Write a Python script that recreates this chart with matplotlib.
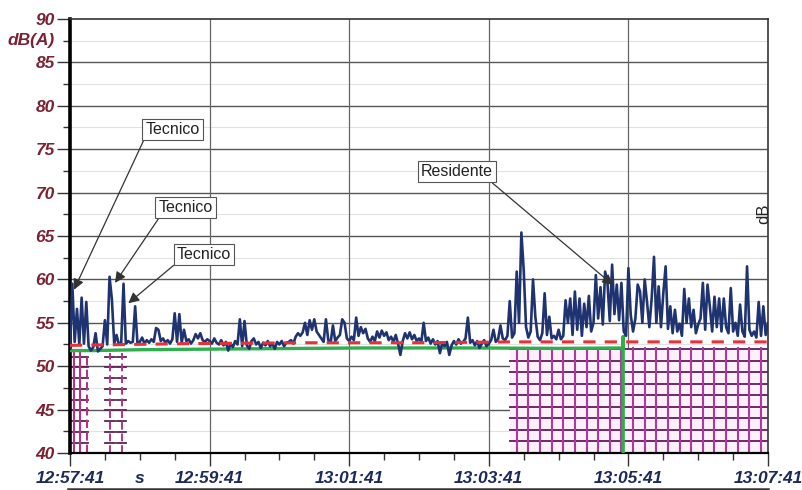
import numpy as np
import matplotlib
matplotlib.use("Agg")
import matplotlib.pyplot as plt
from matplotlib.lines import Line2D

plt.rcParams["font.family"] = ["Liberation Sans", "DejaVu Sans"]

# ── Data (seconds from 12:57:41, level in dB(A)) ─────────────────────────────
SAMPLE_S = 2
blue_db = [
    52.0, 59.5, 52.8, 56.6, 52.5, 57.9, 52.6, 57.4, 52.3, 51.8, 52.2, 53.8, 51.7, 52.0, 52.3,
    55.3, 52.5, 60.3, 57.7, 52.6, 53.6, 52.5, 52.7, 59.5, 52.6, 52.9, 52.7, 52.8, 56.9, 52.6,
    52.8, 53.3, 52.6, 53.0, 52.7, 53.1, 52.8, 54.4, 54.2, 52.9, 53.2, 52.7, 53.0, 52.6, 53.1,
    56.1, 52.8, 56.0, 52.7, 54.2, 52.9, 53.1, 52.6, 53.0, 53.7, 53.2, 53.8, 53.0, 52.8, 53.1,
    52.9, 52.6, 53.2, 52.7, 52.5, 53.0, 52.4, 52.8, 51.8, 52.6, 52.2, 52.9, 52.5, 55.4, 52.3,
    55.2, 52.4, 52.0, 52.9, 53.2, 52.5, 52.8, 52.1, 52.7, 52.4, 52.9, 52.3, 52.6, 52.0, 52.8,
    52.5, 52.9, 52.3, 52.7, 52.8, 53.0, 52.6, 53.4, 53.8, 53.5, 53.9, 55.0, 53.6, 55.3, 54.2,
    55.4, 54.0, 53.6, 53.2, 52.8, 55.4, 53.0, 52.7, 54.7, 52.9, 53.3, 53.6, 55.4, 55.0, 53.2,
    52.9, 53.4, 53.0, 55.6, 53.5, 54.5, 53.8, 54.3, 53.2, 52.8, 53.4, 52.9, 54.0, 53.3, 54.1,
    53.5, 53.9, 53.0, 53.4, 52.8, 53.6, 52.6, 51.3, 52.9, 53.8, 53.2, 53.9, 53.1, 53.6, 52.9,
    53.2, 52.8, 55.0, 52.9, 53.3, 52.6, 53.1, 52.5, 52.9, 51.5, 52.7, 52.3, 52.8, 51.3, 52.4,
    52.9, 52.5, 53.1, 52.6, 52.8, 53.2, 55.6, 52.7, 53.0, 52.4, 52.9, 52.1, 52.6, 53.0, 52.3,
    52.6, 53.0, 54.2, 52.8, 53.1, 54.7, 53.2, 53.0, 53.5, 57.5, 53.3, 53.8, 60.9, 55.0, 65.4,
    61.1, 54.5, 53.3, 54.0, 60.0, 55.7, 53.4, 53.0, 53.8, 58.4, 53.6, 55.7, 53.2, 53.5, 53.1,
    54.2, 53.1, 53.5, 57.6, 55.0, 57.8, 53.6, 58.6, 54.2, 57.8, 53.5, 57.2, 54.5, 58.1, 54.0,
    55.0, 60.5, 55.5, 59.1, 54.8, 60.9, 59.6, 55.2, 61.7, 56.0, 59.4, 55.3, 59.6, 54.0, 53.5,
    61.3, 55.9, 54.0, 55.5, 59.4, 58.6, 55.0, 60.0, 57.4, 54.5, 57.8, 62.6, 55.0, 59.2, 54.5,
    58.4, 61.5, 54.3, 56.9, 53.8, 56.5, 54.0, 54.9, 53.5, 58.9, 55.0, 57.8, 54.5, 56.5, 53.8,
    54.8, 55.5, 59.6, 54.2, 59.4, 56.9, 54.0, 58.0, 54.5, 57.8, 54.0, 57.8, 54.5, 53.8, 59.0,
    54.0, 55.0, 53.5, 57.1, 54.0, 53.4, 61.5, 54.2, 53.5, 54.0, 53.3, 57.4, 53.5, 56.9, 53.6,
    55.0,
]
blue_t = np.arange(len(blue_db)) * SAMPLE_S

red_t = [0, 100, 200, 300, 380, 600]
red_db = [52.4, 52.6, 52.7, 52.7, 52.8, 52.8]

green_t = [0, 20, 60, 150, 250, 350, 420, 475.5, 475.5, 475.5]
green_db = [51.8, 51.8, 51.9, 52.0, 52.1, 52.1, 52.05, 52.1, 53.4, 40.0]

# marked periods (hatched grids)
big_grid = (378, 600, 52.06)        # t start, t end, top level
big_grid_cols = 10                   # s between verticals
big_grid_row = 1.33                  # dB between horizontals
small_grid = (0, 15.5)
small_vlines = [3.4, 8.6, 14.9]
tick_vlines = [34.4, 44.4]
small_levels = [41.2, 42.46, 43.66, 44.9, 46.1, 47.34, 48.6, 49.88, 51.11]

x_ticks = [0, 120, 240, 360, 480, 600]
x_labels = ["12:57:41", "12:59:41", "13:01:41", "13:03:41", "13:05:41", "13:07:41"]
y_ticks = [40, 45, 50, 55, 60, 65, 70, 75, 80, 85, 90]

notes = [
    # text, tip (t, dB), label centre (t, dB), arrow start on box
    ("Tecnico", (3.4, 58.8), (88.1, 77.3), (0.0, 0.0)),
    ("Tecnico", (38.7, 59.6), (99.3, 68.3), (0.05, 0.0)),
    ("Tecnico", (50.1, 57.25), (115.2, 62.9), (0.02, 0.0)),
    ("Residente", (466.8, 59.35), (332.7, 72.4), (0.93, 0.0)),
]

MAROON = "#7b2232"
NAVY = "#1b2a5a"

# ── Figure ───────────────────────────────────────────────────────────────────
fig = plt.figure(figsize=(8.02, 4.90), dpi=100)
ax = fig.add_axes([70 / 802, 1 - 453 / 490, 698 / 802, 434 / 490])
ax.set_xlim(0, 600)
ax.set_ylim(40, 90)

# grid lines
for v in np.arange(42.5, 90, 5):
    ax.axhline(v, color="#e2e2e2", lw=0.8, zorder=0)
for v in range(45, 90, 5):
    ax.axhline(v, color="#555555", lw=1.0, zorder=0.5)
for t in x_ticks[1:-1]:
    ax.axvline(t, color="#666666", lw=0.9, zorder=0.5)

# big hatched period
t0, t1, top = big_grid
ax.fill_between([t0, t1], 40, top, color="#fcf0fa", lw=0, zorder=1)
for lev in np.arange(40 + big_grid_row, top + 0.01, big_grid_row):
    ax.plot([t0, t1], [lev, lev], color="#6b2a66", lw=1.4, zorder=1.2)
for t in np.arange(t0 + 6, t1, big_grid_cols):
    ax.plot([t, t], [40, top], color="#b0389c", lw=1.5, zorder=1.3)

# small hatched period at the start
for lev in small_levels:
    ax.plot(small_grid, [lev, lev], color="#5a2450", lw=1.3, zorder=1.2)
    for t in tick_vlines:
        ax.plot([t - 4, t + 4], [lev, lev], color="#5a2450", lw=1.3, zorder=1.2)
for i, t in enumerate(small_vlines):
    ax.plot([t, t], [40, 51.5], color="#b8337f", lw=1.5,
            ls="-" if i < 2 else (0, (4, 2)), zorder=1.3)
for t in tick_vlines:
    ax.plot([t, t], [40, 51.5], color="#b8337f", lw=1.4, ls=(0, (4, 2)), zorder=1.3)

# series
ax.plot(green_t, green_db, color="#2fae4e", lw=2.4, zorder=3)
ax.plot(blue_t, blue_db, color="#1f3370", lw=1.9, zorder=4)
ax.plot(red_t, red_db, color="#e8303a", lw=2.2, ls=(0, (4, 3)), zorder=5)

# annotations
for text, tip, pos, rel in notes:
    ax.annotate(text, xy=tip, xytext=pos, ha="center", va="center",
                fontsize=11.5, color="#222222", zorder=6,
                bbox=dict(boxstyle="square,pad=0.2", fc="white", ec="#555555", lw=0.8),
                arrowprops=dict(arrowstyle="-|>", color="#333333", lw=0.9,
                                mutation_scale=16, relpos=rel, shrinkA=0, shrinkB=0))

# axes styling
ax.spines["left"].set_linewidth(2.6)
ax.spines["bottom"].set_linewidth(1.6)
ax.spines["top"].set_linewidth(1.2)
ax.spines["top"].set_color("#333333")
ax.spines["right"].set_linewidth(1.3)
ax.spines["right"].set_color("#444444")

ax.set_yticks(y_ticks)
ax.set_yticks(np.arange(42.5, 90, 5), minor=True)
ax.set_yticklabels([str(v) for v in y_ticks], color=MAROON, fontsize=12.5,
                   fontweight="bold", fontstyle="italic")
ax.set_xticks(x_ticks)
ax.set_xticks(np.arange(0, 601, 30), minor=True)
ax.set_xticklabels(x_labels, color=NAVY, fontsize=12.5,
                   fontweight="bold", fontstyle="italic")
ax.tick_params(axis="y", which="major", length=9.5, width=1.0, pad=1.5, color="#333333")
ax.tick_params(axis="y", which="minor", length=5, width=1.0, color="#333333")
ax.tick_params(axis="x", which="major", length=9.5, width=1.0, pad=3.5, color="#333333")
ax.tick_params(axis="x", which="minor", length=5, width=1.0, color="#333333")

ytrans = ax.get_yaxis_transform()
ax.text(-0.022, 87.5, "dB(A)", transform=ytrans, ha="right", va="center",
        color=MAROON, fontsize=12.5, fontweight="bold", fontstyle="italic")
xtrans = ax.get_xaxis_transform()
ax.text(60, -0.058, "s", transform=xtrans, ha="center", va="center",
        color=NAVY, fontsize=12.5, fontweight="bold", fontstyle="italic")
fig.text(764 / 802, 1 - 214 / 490, "dB", rotation=90, ha="center", va="center",
         fontsize=12, color="#222222")

# rule under the time labels
fig.add_artist(Line2D([68 / 802, 768 / 802], [1 - 489 / 490] * 2,
                      color="#333333", lw=1.8, transform=fig.transFigure))

fig.savefig("out.png", dpi=100, facecolor="white")
